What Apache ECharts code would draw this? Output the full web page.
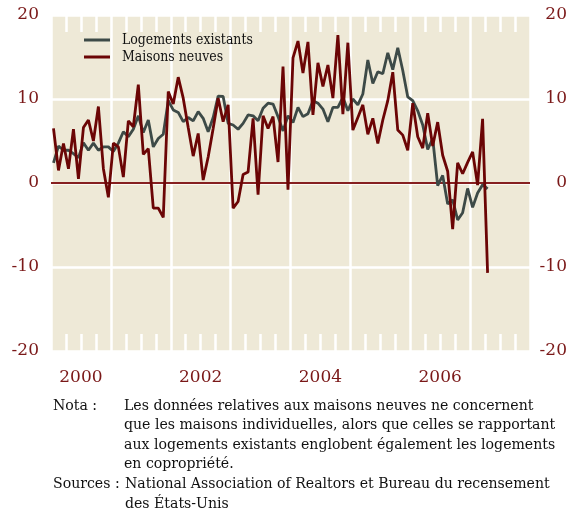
<!DOCTYPE html>
<html>
<head>
<meta charset="utf-8">
<script src="https://cdn.jsdelivr.net/npm/echarts@6/dist/echarts.min.js"></script>
<style>
  html, body { margin: 0; padding: 0; background: #ffffff; }
  #chart { width: 570px; height: 510px; }
</style>
</head>
<body>
<div id="chart"></div>
<script>
// ---- Data (monthly, starting January 2000) ----
const startYear = 2000;
const years = ['2000', '2001', '2002', '2003', '2004', '2005', '2006', '2007'];
const yTickValues = [-20, -10, 0, 10, 20];
const seriesNames = ['Logements existants', 'Maisons neuves'];

const logementsExistants = [
  2.4, 4.4, 3.9, 3.9, 3.5, 3.0, 4.8, 3.9, 4.75, 3.9, 4.3, 4.3,
  3.75, 4.75, 6.1, 5.5, 6.4, 8.0, 6.0, 7.5, 4.3, 5.3, 5.8, 9.8,
  8.7, 8.4, 7.3, 7.8, 7.4, 8.5, 7.7, 6.1, 7.8, 10.35, 10.3, 7.1,
  6.9, 6.4, 7.1, 8.1, 8.0, 7.4, 8.9, 9.5, 9.4, 7.9, 6.2, 8.0,
  7.2, 9.0, 7.9, 8.25, 9.8, 9.5, 8.8, 7.3, 9.0, 9.0, 10.2, 8.6,
  10.0, 9.3, 10.6, 14.65, 11.85, 13.25, 13.0, 15.5, 13.5, 16.1, 13.4, 10.25,
  9.8, 8.6, 6.9, 4.0, 5.3, -0.3, 0.9, -2.5, -2.0, -4.4, -3.55, -0.65,
  -2.9, -1.2, -0.2, -0.7
];

const maisonsNeuves = [
  6.5, 1.5, 4.7, 1.7, 6.4, 0.5, 6.6, 7.5, 5.0, 9.1, 1.7, -1.7,
  4.75, 4.3, 0.7, 7.4, 6.7, 11.7, 3.4, 4.1, -3.0, -3.0, -4.1, 10.9,
  9.4, 12.6, 10.1, 6.6, 3.2, 5.9, 0.35, 3.1, 6.5, 10.1, 7.3, 9.3,
  -3.0, -2.2, 1.0, 1.3, 7.7, -1.4, 8.0, 6.5, 7.9, 2.5, 13.85, -0.8,
  14.9, 16.9, 13.1, 16.8, 8.1, 14.3, 11.5, 14.05, 10.1, 17.6, 8.2, 16.7,
  6.3, 7.8, 9.3, 5.8, 7.7, 4.7, 7.5, 9.8, 13.2, 6.3, 5.7, 3.9,
  9.5, 5.5, 4.15, 8.3, 4.4, 7.25, 3.3, 1.4, -5.5, 2.4, 1.1, 2.45,
  3.7, -0.25, 7.65, -10.7
];

const notaLabel = 'Nota :';
const notaText = [
  'Les données relatives aux maisons neuves ne concernent',
  'que les maisons individuelles, alors que celles se rapportant',
  'aux logements existants englobent également les logements',
  'en copropriété.'
];
const sourcesLabel = 'Sources :';
const sourcesText = [
  'National Association of Realtors et Bureau du recensement',
  'des États-Unis'
];

// month index -> decimal year at mid-month
function toPairs(values) {
  return values.map((v, i) => [startYear + (i + 0.5) / 12, v]);
}

const SERIF = '"DejaVu Serif", "Liberation Serif", serif';
// text font: a condensed serif if present, else the regular one
const ctx = document.createElement('canvas').getContext('2d');
function widthOf(text, fam) { ctx.font = '100px ' + fam; return ctx.measureText(text).width; }
const probe = 'Logements existants';
const hasCond = widthOf(probe, '"DejaVu Serif Condensed", monospace') !== widthOf(probe, 'monospace');
const TEXTFAM = hasCond ? '"DejaVu Serif Condensed", "DejaVu Serif", serif' : SERIF;
// size the note text so its long lines take the same room as in the reference
const fitLines = [notaText[0], notaText[1], notaText[2], sourcesText[0]];
const fitTargets = [421, 424, 424, 428];
const noteSize = 100 * fitTargets.reduce((a, b) => a + b, 0) /
  fitLines.reduce((a, t) => a + widthOf(t, TEXTFAM), 0);
const legendSize = 100 * 131 / widthOf(seriesNames[0], TEXTFAM);

const RED = '#6b0505';
const GREY = '#3d4a47';
const LABEL = '#7a1818';
const BEIGE = '#eee9d7';
const xMin = startYear;
const xMax = startYear + years.length;

const chart = echarts.init(document.getElementById('chart'), null, { renderer: 'canvas' });
const noteFont = noteSize.toFixed(2) + 'px ' + TEXTFAM;

const option = {
  animation: false,
  backgroundColor: '#ffffff',
  grid: {
    left: 51, right: 40, top: 15, bottom: 159,
    show: true, backgroundColor: BEIGE, borderWidth: 0
  },
  legend: {
    data: seriesNames,
    orient: 'vertical',
    left: 79, top: 27,
    icon: 'rect',
    itemWidth: 26, itemHeight: 3, itemGap: 1,
    textStyle: { fontFamily: TEXTFAM, fontSize: legendSize, color: '#111', padding: [0, 0, 0, 7], lineHeight: 16 }
  },
  xAxis: [
    {
      type: 'value', min: xMin, max: xMax, interval: 1, position: 'bottom',
      axisLine: { show: false, onZero: false },
      axisTick: { show: false, inside: true },
      axisLabel: { show: false },
      splitLine: { show: true, lineStyle: { color: '#ffffff', width: 2.5 } },
      minorTick: { show: true, splitNumber: 4, length: 17, lineStyle: { color: '#ffffff', width: 2.5 } }
    },
    {
      type: 'value', min: xMin, max: xMax, interval: 1, position: 'top',
      axisLine: { show: false, onZero: false },
      axisTick: { show: false, inside: true },
      axisLabel: { show: false },
      splitLine: { show: false },
      minorTick: { show: true, splitNumber: 4, length: 17, lineStyle: { color: '#ffffff', width: 2.5 } }
    },
    {
      type: 'category', data: years, position: 'bottom', boundaryGap: true,
      axisLine: { show: false, onZero: false },
      axisTick: { show: false },
      splitLine: { show: false },
      axisLabel: { interval: 1, margin: 18, color: LABEL, fontFamily: SERIF, fontSize: 17 }
    }
  ],
  yAxis: [
    {
      type: 'value', min: yTickValues[0], max: yTickValues[yTickValues.length - 1], interval: 10,
      position: 'left',
      axisLine: { show: false }, axisTick: { show: false },
      axisLabel: { margin: 12, color: LABEL, fontFamily: SERIF, fontSize: 17 },
      splitLine: { show: true, lineStyle: { color: '#ffffff', width: 2.5 } }
    },
    {
      type: 'value', min: yTickValues[0], max: yTickValues[yTickValues.length - 1], interval: 10,
      position: 'right', z: 1,
      axisLine: { show: false }, axisTick: { show: false },
      axisLabel: { margin: 37, align: 'right', color: LABEL, fontFamily: SERIF, fontSize: 17 },
      splitLine: {
        show: true,
        lineStyle: {
          color: yTickValues.map(v => v === 0 ? '#862020' : 'rgba(0,0,0,0)'),
          width: 2
        }
      }
    }
  ],
  series: [
    {
      name: seriesNames[0], type: 'line', xAxisIndex: 0, yAxisIndex: 0,
      data: toPairs(logementsExistants),
      showSymbol: false, symbol: 'none',
      color: GREY,
      lineStyle: { color: GREY, width: 2.8 },
      z: 3
    },
    {
      name: seriesNames[1], type: 'line', xAxisIndex: 0, yAxisIndex: 0,
      data: toPairs(maisonsNeuves),
      showSymbol: false, symbol: 'none',
      color: RED,
      lineStyle: { color: RED, width: 2.8 },
      z: 4
    }
  ],
  graphic: [
    { type: 'text', x: 53, y: 396, style: { text: notaLabel, font: noteFont, fill: '#111', lineHeight: 19.5, verticalAlign: 'top' } },
    { type: 'text', x: 124, y: 396, style: { text: notaText.join('\n'), font: noteFont, fill: '#111', lineHeight: 19.5, verticalAlign: 'top' } },
    { type: 'text', x: 53, y: 474.5, style: { text: sourcesLabel, font: noteFont, fill: '#111', lineHeight: 19.5, verticalAlign: 'top' } },
    { type: 'text', x: 125, y: 474.5, style: { text: sourcesText.join('\n'), font: noteFont, fill: '#111', lineHeight: 19.5, verticalAlign: 'top' } }
  ]
};

chart.setOption(option);
</script>
</body>
</html>
